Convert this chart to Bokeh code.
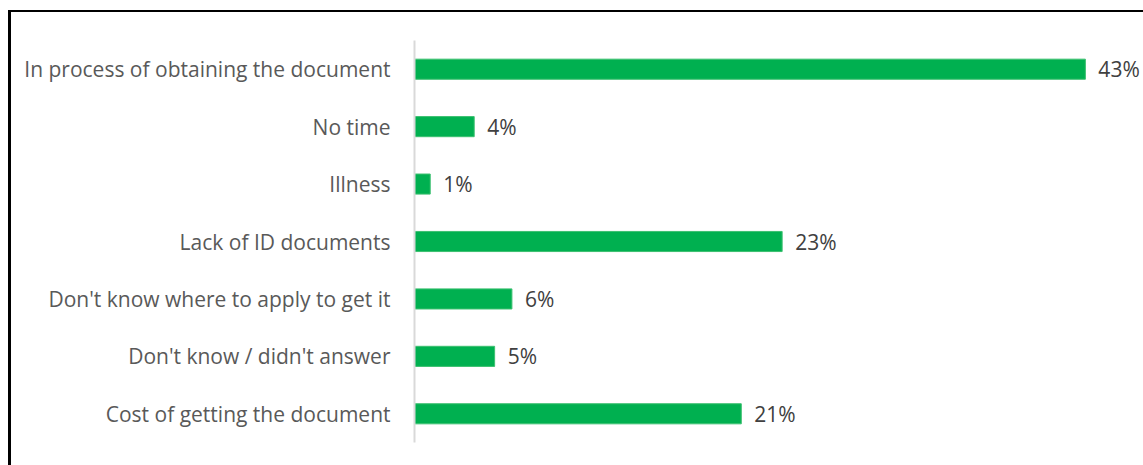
from bokeh.plotting import figure
from bokeh.models import ColumnDataSource, FactorRange, Range1d
from bokeh.layouts import column
from bokeh.core.properties import value
from bokeh.embed import file_html
from bokeh.resources import INLINE

categories = [
    "In process of obtaining the document",
    "No time",
    "Illness",
    "Lack of ID documents",
    "Don't know where to apply to get it",
    "Don't know / didn't answer",
    "Cost of getting the document",
]
values = [42.7, 3.8, 1.0, 23.4, 6.2, 5.1, 20.8]
labels = ["43%", "4%", "1%", "23%", "6%", "5%", "21%"]

src = ColumnDataSource(dict(cat=categories, val=values, lab=labels))

p = figure(
    width=1132, height=453,
    y_range=FactorRange(*reversed(categories)),
    x_range=Range1d(0, 46.4),
    output_backend="svg", toolbar_location=None,
    min_border_left=403, min_border_right=0, min_border_top=28, min_border_bottom=23,
)
p.hbar(y="cat", right="val", left=0, height=0.35, source=src,
       fill_color="#00b050", line_color="#3cc070", line_width=1)
p.text(x="val", y="cat", text="lab", source=src, x_offset=13,
       text_align="left", text_baseline="middle",
       text_font=value("Open Sans"), text_font_size="21px", text_color="#404040")

p.xaxis.visible = False
p.xgrid.visible = False
p.ygrid.visible = False
p.outline_line_color = None
ax = p.yaxis[0]
ax.axis_line_color = "#d9d9d9"
ax.axis_line_width = 2
ax.major_tick_line_color = None
ax.minor_tick_line_color = None
ax.major_label_standoff = 18
ax.major_label_text_font = "Open Sans"
ax.major_label_text_font_size = "21px"
ax.major_label_text_color = "#595959"

layout = column(p, styles={"margin-left": "8px", "margin-top": "10px",
                           "border-left": "3px solid black", "border-top": "2px solid black"})

open("out.html", "w").write(file_html(layout, INLINE))
